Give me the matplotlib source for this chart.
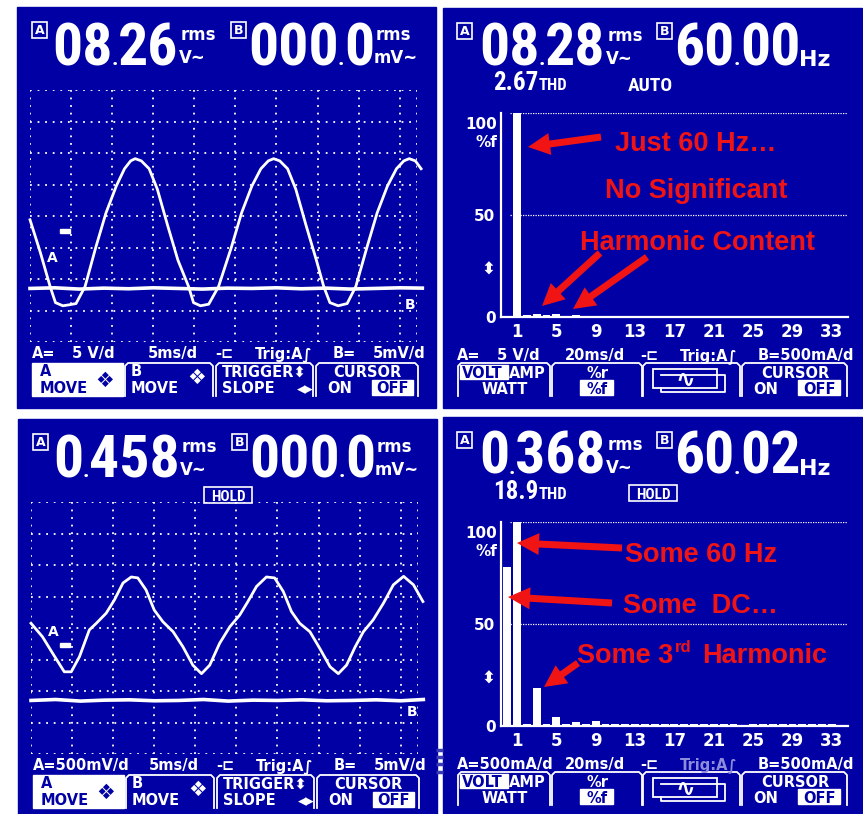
import matplotlib
matplotlib.use("Agg")
import matplotlib.pyplot as plt
from matplotlib.patches import Rectangle

W, H = 863, 814
BLUE = "#0000a4"
RED = "#f01414"
DIM = "#8c8cdc"
BIG = ["Roboto Condensed", "DejaVu Sans"]
LCD = ["DejaVu Sans"]
NOTE = ["Liberation Sans", "DejaVu Sans"]

# scope traces, in screen divisions (x: 0..9.4, y: 0..8)
wave_a1_x = [0.00, 0.25, 0.49, 0.62, 0.80, 0.95, 1.12, 1.34, 1.60, 1.85, 2.10, 2.30,
             2.45, 2.56, 2.71, 2.90, 3.10, 3.35, 3.60, 3.86, 3.98, 4.15, 4.35, 4.59,
             4.90, 5.15, 5.40, 5.62, 5.80, 5.93, 6.08, 6.27, 6.47, 6.72, 6.97, 7.15,
             7.30, 7.50, 7.72, 7.93, 8.20, 8.45, 8.70, 8.92, 9.10, 9.23, 9.38, 9.52]
wave_a1_y = [3.88, 2.85, 1.76, 1.25, 1.15, 1.18, 1.22, 1.76, 3.00, 4.10, 4.95, 5.50,
             5.75, 5.82, 5.75, 5.50, 4.85, 3.70, 2.60, 1.76, 1.25, 1.15, 1.20, 1.76,
             3.00, 4.10, 4.95, 5.50, 5.75, 5.82, 5.75, 5.50, 4.85, 3.70, 2.60, 1.76,
             1.25, 1.15, 1.22, 1.76, 3.00, 4.10, 4.95, 5.50, 5.75, 5.82, 5.75, 5.50]
wave_a3_x = [0.00, 0.28, 0.53, 0.81, 0.98, 1.18, 1.42, 1.59, 1.83, 2.03, 2.24, 2.44,
             2.60, 2.80, 3.00, 3.21, 3.46, 3.70, 3.94, 4.15, 4.35, 4.59, 4.84, 5.08,
             5.28, 5.49, 5.73, 5.93, 6.14, 6.34, 6.54, 6.79, 7.03, 7.28, 7.48, 7.68,
             7.89, 8.09, 8.33, 8.58, 8.82, 9.07, 9.31, 9.54]
wave_a3_y = [4.15, 3.72, 3.19, 2.61, 2.61, 3.09, 3.94, 4.15, 4.47, 4.89, 5.43, 5.62,
             5.59, 5.21, 4.57, 4.20, 3.88, 3.40, 2.82, 2.55, 2.82, 3.51, 4.04, 4.41,
             4.84, 5.32, 5.62, 5.59, 5.16, 4.52, 4.15, 3.88, 3.35, 2.77, 2.55, 2.82,
             3.40, 3.88, 4.26, 4.79, 5.37, 5.64, 5.37, 4.84]
wave_b_x = [0.0, 0.6, 1.2, 1.8, 2.4, 3.0, 3.6, 4.2, 4.8, 5.4, 6.0, 6.6, 7.2, 7.8, 8.4, 9.0, 9.55]
wave_b1_y = [1.70, 1.72, 1.68, 1.71, 1.69, 1.72, 1.70, 1.68, 1.71, 1.70, 1.72, 1.69, 1.71, 1.68, 1.70, 1.72, 1.71]
wave_b3_y = [1.70, 1.73, 1.68, 1.71, 1.72, 1.69, 1.70, 1.73, 1.68, 1.71, 1.70, 1.72, 1.69, 1.70, 1.72, 1.69, 1.73]
grid_cols = [0, 1, 2, 3, 4, 5, 6, 7, 8, 9, 9.42]
grid_rows = [0, 1, 2, 3, 4, 5, 6, 7, 8]

# harmonic spectra, % of fundamental (index 0 = DC)
harmonic_order = list(range(34))
spectrum_clean = [0, 100, 0.8, 1.3, 1.0, 1.3, 0, 1.0, 0, 0, 0, 0, 0, 0, 0, 0, 0,
                  0, 0, 0, 0, 0, 0, 0, 0, 0, 0, 0, 0, 0, 0, 0, 0, 0]
spectrum_held = [78, 100, 1.0, 18.5, 1.0, 4.2, 1.0, 1.8, 1.0, 2.5, 0.8, 0.8, 0.8, 0.8,
                 0.8, 0.8, 0.8, 0.8, 0.8, 0.8, 0.8, 0.8, 0.8, 0.8, 0, 0.8, 0.8, 0.8,
                 0.8, 0.8, 0.8, 0.8, 0.8, 0.8]
harmonic_ticks = [1, 5, 9, 13, 17, 21, 25, 29, 33]
percent_ticks = [0, 50]

# readings on the four screens
reading_a = ["08.26", "08.28", "0.458", "0.368"]
reading_b = ["000.0", "60.00", "000.0", "60.02"]
thd_readings = ["2.67", "18.9"]

fig = plt.figure(figsize=(W / 100, H / 100), dpi=100, facecolor="white")
bg = fig.add_axes([0, 0, 1, 1], zorder=0)
bg.set_xlim(0, W)
bg.set_ylim(H, 0)
bg.axis("off")
top = fig.add_axes([0, 0, 1, 1], zorder=5)
top.set_xlim(0, W)
top.set_ylim(H, 0)
top.axis("off")
top.patch.set_alpha(0)


def px_axes(x0, y0, x1, y1):
    ax = fig.add_axes([x0 / W, 1 - y1 / H, (x1 - x0) / W, (y1 - y0) / H], zorder=2)
    ax.patch.set_alpha(0)
    return ax


def lcd(x, y, s, size=10.5, color="white", ha="left", family=LCD, va="baseline"):
    bg.text(x, y, s, ha=ha, va=va, fontsize=size, fontweight="bold",
            color=color, family=family)


def box_label(x, y, s):
    bg.add_patch(Rectangle((x, y), 15, 16, fill=False, ec="white", lw=1.2))
    lcd(x + 7.5, y + 8.5, s, size=9, ha="center", va="center")


def hold_box(x, y):
    bg.add_patch(Rectangle((x, y), 48, 16, fill=False, ec="white", lw=1.2))
    lcd(x + 24, y + 14, "HOLD", size=11, ha="center", family=BIG)


def draw_digits(text, x_left, baseline, pitch=30):
    # digits run on a fixed pitch, the decimal point sits in a narrow gap
    head, tail = text.split(".")
    lcd(x_left, baseline, head, size=43, family=BIG)
    x_dot = x_left + pitch * len(head)
    lcd(x_dot + 3, baseline, ".", size=16, ha="center", family=BIG)
    lcd(x_dot + 6, baseline, tail, size=43, family=BIG)


def key_outline(x0, x1, y0, y1):
    bg.plot([x0, x0, x0 + 3, x1 - 3, x1, x1], [y1, y0 + 3, y0, y0, y0 + 3, y1],
            color="white", lw=1.3)


def draw_scope(dx, dy, a_text, scale_chunks, wave_x, wave_y, base_y, hold, marks):
    bg.add_patch(Rectangle((17 + dx, 7 + dy), 419, 401 - (dy > 0) * 6, color=BLUE))
    box_label(32 + dx, 22 + dy, "A")
    draw_digits(a_text, 52 + dx, 65 + dy)
    lcd(181 + dx, 40 + dy, "rms", size=12)
    lcd(179 + dx, 63 + dy, "V~", size=12)
    box_label(231 + dx, 22 + dy, "B")
    draw_digits("000.0", 248 + dx, 65 + dy)
    lcd(376 + dx, 40 + dy, "rms", size=12)
    lcd(374 + dx, 63 + dy, "mV~", size=12)
    if hold:
        hold_box(203 + dx, 75 + dy)

    ax = px_axes(30 + dx, 90 + dy, 417 + dx, 342 + dy)
    ax.set_xlim(0, 9.42)
    ax.set_ylim(0, 8)
    ax.axis("off")
    ax.vlines(grid_cols, 0, 8, colors="white", linestyles=(0, (1, 3.2)), lw=1.3)
    ax.hlines(grid_rows, 0, 9.42, colors="white", linestyles=(0, (1, 3.2)), lw=1.3)
    ax.plot(wave_b_x, base_y, color="white", lw=2.6, clip_on=False)
    ax.plot(wave_x, wave_y, color="white", lw=2.0, clip_on=False)

    (ax_a, ay_a), (mx, my), (bx, by) = marks
    lcd(ax_a + dx, ay_a + dy, "A", size=10, ha="center", va="center")
    bg.add_patch(Rectangle((mx + dx, my + dy), 10, 4, color="white", zorder=3))
    lcd(bx + dx, by + dy, "B", size=10, ha="center", va="center")

    for x, s in scale_chunks:
        lcd(x + dx, 358 + dy, s)
    lcd(148 + dx, 358 + dy, "5ms/d")
    lcd(215 + dx, 358 + dy, "-⊏")
    lcd(255 + dx, 358 + dy, "Trig:A∫")
    lcd(333 + dx, 358 + dy, "B=")
    lcd(373 + dx, 358 + dy, "5mV/d")

    bg.add_patch(Rectangle((32 + dx, 363 + dy), 91, 33, color="white"))
    lcd(40 + dx, 376 + dy, "A", color=BLUE)
    lcd(40 + dx, 393 + dy, "MOVE", color=BLUE)
    lcd(105 + dx, 381 + dy, "❖", size=15, color=BLUE, ha="center", va="center")
    key_outline(125 + dx, 213 + dx, 363 + dy, 396 + dy)
    lcd(131 + dx, 376 + dy, "B")
    lcd(131 + dx, 393 + dy, "MOVE")
    lcd(197 + dx, 378 + dy, "❖", size=15, ha="center", va="center")
    key_outline(216 + dx, 313 + dx, 363 + dy, 396 + dy)
    lcd(222 + dx, 377 + dy, "TRIGGER⬍")
    lcd(222 + dx, 393 + dy, "SLOPE")
    lcd(305 + dx, 394 + dy, "◂▸", size=12, ha="center")
    key_outline(316 + dx, 418 + dx, 363 + dy, 396 + dy)
    lcd(367 + dx, 377 + dy, "CURSOR", ha="center")
    lcd(327 + dx, 393 + dy, "ON")
    bg.add_patch(Rectangle((372 + dx, 380 + dy), 41, 15, color="white"))
    lcd(392 + dx, 393 + dy, "OFF", color=BLUE, ha="center")


def draw_spectrum(dy, a_text, b_text, thd, hold, spectrum, scale_chunks, trig_color):
    bg.add_patch(Rectangle((443, 8 + dy), 419, 400 - (dy > 0) * 4, color=BLUE))
    box_label(457, 23 + dy, "A")
    draw_digits(a_text, 479, 65 + dy)
    lcd(608, 41 + dy, "rms", size=12)
    lcd(606, 64 + dy, "V~", size=12)
    box_label(657, 23 + dy, "B")
    draw_digits(b_text, 674, 65 + dy)
    lcd(799, 66 + dy, "Hz", size=16)
    lcd(493, 90 + dy, thd, size=18, family=BIG)
    lcd(539, 90 + dy, "THD", size=12, family=BIG)
    if hold:
        hold_box(629, 76 + dy)
    else:
        lcd(628, 91 + dy, "AUTO", size=14, family=BIG)

    ax = px_axes(501, 113 + dy, 848, 317 + dy)
    ax.bar(harmonic_order, spectrum, width=0.8, color="white", clip_on=False)
    ax.set_xlim(-0.626, 34.64)
    ax.set_ylim(0, 100)
    ax.hlines([50, 100], 0.3, 34.64, colors="white", linestyles=(0, (1, 1)), lw=0.9)
    for side in ("top", "right"):
        ax.spines[side].set_visible(False)
    for side in ("left", "bottom"):
        ax.spines[side].set_color("white")
        ax.spines[side].set_linewidth(1.6)
    ax.set_xticks(harmonic_ticks)
    ax.set_yticks(percent_ticks)
    ax.tick_params(axis="x", length=0, colors="white", labelsize=12, pad=4)
    ax.tick_params(axis="y", length=0, colors="white", labelsize=11, pad=4)
    for lab in ax.get_xticklabels() + ax.get_yticklabels():
        lab.set_fontweight("bold")
    lcd(497, 129 + dy, "100", size=11, ha="right")
    lcd(497, 147 + dy, "%f", size=11, ha="right")
    lcd(488, 270 + dy, "⬍", size=12, ha="center", va="center")

    for x, s in scale_chunks:
        lcd(x, 360 + dy, s)
    lcd(565, 360 + dy, "20ms/d")
    lcd(640, 360 + dy, "-⊏")
    lcd(680, 360 + dy, "Trig:A∫", color=trig_color)
    lcd(758, 360 + dy, "B=500mA/d")

    key_outline(458, 550, 363 + dy, 396 + dy)
    bg.add_patch(Rectangle((460, 365 + dy), 48, 14, color="white"))
    lcd(462, 378 + dy, "VOLT", color=BLUE)
    lcd(509, 378 + dy, "AMP")
    lcd(505, 394 + dy, "WATT", ha="center")
    key_outline(552, 642, 363 + dy, 396 + dy)
    lcd(597, 378 + dy, "%r", ha="center")
    bg.add_patch(Rectangle((580, 380 + dy), 33, 15, color="white"))
    lcd(597, 394 + dy, "%f", color=BLUE, ha="center")
    key_outline(643, 740, 363 + dy, 396 + dy)
    bg.plot([661, 725, 725, 661, 661], [375 + dy, 375 + dy, 392 + dy, 392 + dy, 388 + dy],
            color="white", lw=1.3)
    bg.add_patch(Rectangle((653, 369 + dy), 64, 19, fc=BLUE, ec="white", lw=1.3))
    lcd(685, 380 + dy, "∿", size=17, ha="center", va="center")
    key_outline(742, 847, 363 + dy, 396 + dy)
    lcd(795, 378 + dy, "CURSOR", ha="center")
    lcd(753, 394 + dy, "ON")
    bg.add_patch(Rectangle((798, 380 + dy), 42, 15, color="white"))
    lcd(819, 394 + dy, "OFF", color=BLUE, ha="center")


draw_scope(0, 0, reading_a[0], [(32, "A="), (72, "5 V/d")], wave_a1_x, wave_a1_y,
           wave_b1_y, False, [(52, 258), (60, 229), (410, 305)])
draw_scope(1, 412, reading_a[2], [(32, "A=500mV/d")], wave_a3_x, wave_a3_y,
           wave_b3_y, True, [(52, 220), (59, 231), (411, 300)])
draw_spectrum(0, reading_a[1], reading_b[1], thd_readings[0], False, spectrum_clean,
              [(457, "A="), (497, "5 V/d")], "white")
draw_spectrum(409, reading_a[3], reading_b[3], thd_readings[1], True, spectrum_held,
              [(457, "A=500mA/d")], DIM)

# faint screen-edge residue between the two lower screens
bg.hlines([750, 757, 764, 772], 436, 443, colors="#3a3ab4", lw=2.5)


def note(x, y, s, ha="center", size=19.5):
    top.text(x, y, s, ha=ha, va="baseline", fontsize=size, fontweight="bold",
             color=RED, family=NOTE)


def red_arrow(x0, y0, x1, y1):
    top.arrow(x0, y0, x1 - x0, y1 - y0, width=7, head_width=22, head_length=22,
              length_includes_head=True, color=RED, lw=0)


note(696, 151, "Just 60 Hz…")
note(696, 198, "No Significant")
note(697, 250, "Harmonic Content")
red_arrow(601, 137, 528, 147)
red_arrow(600, 253, 542, 306)
red_arrow(647, 257, 573, 309)

note(701, 562, "Some 60 Hz")
note(700, 613, "Some  DC…")
note(577, 663, "Some 3", ha="left")
note(675, 652, "rd", ha="left", size=12)
note(702, 663, "Harmonic", ha="left")
red_arrow(622, 548, 517, 543)
red_arrow(612, 603, 508, 597)
red_arrow(578, 663, 544, 687)

fig.savefig("out.png", dpi=100, facecolor="white")
